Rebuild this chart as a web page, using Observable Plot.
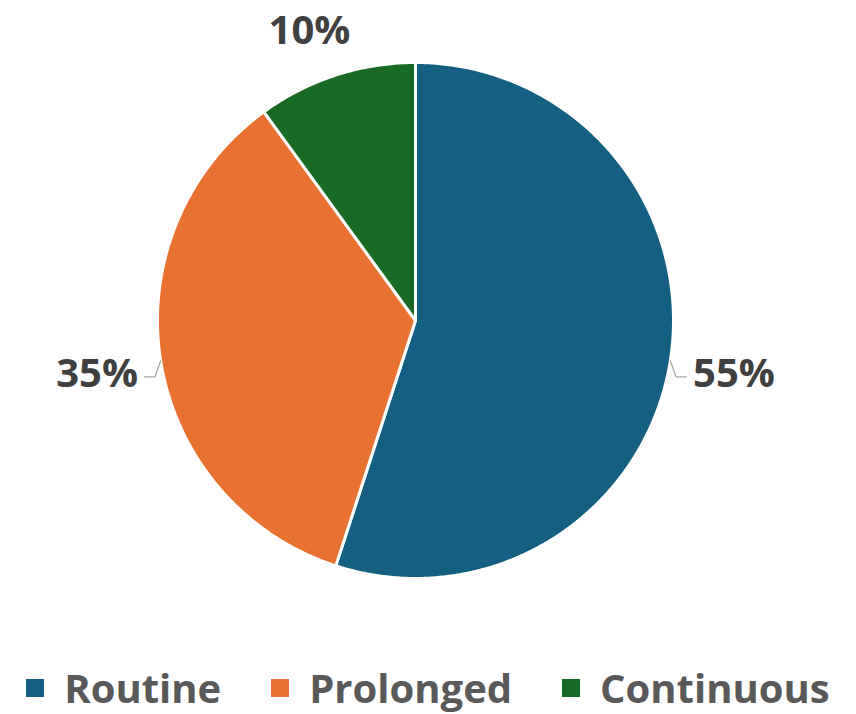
<!DOCTYPE html>
<html>
<head>
<meta charset="utf-8">
<script src="https://cdn.jsdelivr.net/npm/d3@7"></script>
<script src="https://cdn.jsdelivr.net/npm/@observablehq/plot@0.6"></script>
<style>
  body { margin: 0; background: #fff; font-family: "Open Sans", sans-serif; }
  #wrap { position: relative; width: 856px; height: 714px; }
  #legend { position: absolute; left: 0; top: 660px; width: 856px; display: flex; justify-content: center; align-items: center; gap: 50px; font-weight: 700; font-size: 40px; color: #595959; }
  .item { display: flex; align-items: center; gap: 20px; }
  .sw { width: 18px; height: 18px; display: inline-block; }
</style>
</head>
<body>
<div id="wrap">
  <div id="chart"></div>
  <div id="legend"></div>
</div>
<script>
const categories = ["Routine", "Prolonged", "Continuous"];
const shares = [55, 35, 10];
const labels = ["55%", "35%", "10%"];
const colors = ["#156082", "#E97132", "#196B24"];
const hasLeader = [true, true, false];

const total = d3.sum(shares);
const slices = [];
const leaders = [];
const texts = [];
let acc = 0;
categories.forEach((c, i) => {
  const a0 = acc / total * 2 * Math.PI;
  acc += shares[i];
  const a1 = acc / total * 2 * Math.PI;
  slices.push({cat: c, x: 0, y: 0});
  const n = Math.max(2, Math.ceil((a1 - a0) / (Math.PI / 360)));
  for (let k = 0; k <= n; k++) {
    const a = a0 + (a1 - a0) * k / n;
    slices.push({cat: c, x: Math.sin(a), y: Math.cos(a)});
  }
  slices.push({cat: c, x: 0, y: 0});
  const m = (a0 + a1) / 2;
  const sx = Math.sin(m), sy = Math.cos(m);
  if (hasLeader[i]) {
    const sign = sx >= 0 ? 1 : -1;
    const p1 = {x: sx + sign * 0.022, y: sy - 0.062};
    const p2 = {x: p1.x + sign * 0.04, y: p1.y};
    leaders.push({cat: c, x: sx, y: sy}, {cat: c, x: p1.x, y: p1.y}, {cat: c, x: p2.x, y: p2.y});
    texts.push({label: labels[i], x: p2.x + sign * 0.026, y: p2.y + 0.012, anchor: sign > 0 ? "start" : "end"});
  } else {
    texts.push({label: labels[i], x: sx * 1.2 - 0.04, y: sy * 1.18, anchor: "middle"});
  }
});

const chart = Plot.plot({
  width: 856,
  height: 650,
  margin: 0,
  x: {domain: [-1, 1], range: [157, 673], axis: null},
  y: {domain: [-1, 1], range: [578, 62], axis: null},
  color: {domain: categories, range: colors},
  marks: [
    Plot.line(slices, {x: "x", y: "y", z: "cat", fill: "cat", stroke: "white", strokeWidth: 3, strokeLinejoin: "round", curve: "linear"}),
    Plot.line(leaders, {x: "x", y: "y", z: "cat", stroke: "#a6a6a6", strokeWidth: 1.3}),
    Plot.text(texts.filter(d => d.anchor === "start"), {x: "x", y: "y", text: "label", textAnchor: "start", fontSize: 40, fontWeight: 700, fill: "#404040", fontFamily: "Open Sans"}),
    Plot.text(texts.filter(d => d.anchor === "end"), {x: "x", y: "y", text: "label", textAnchor: "end", fontSize: 40, fontWeight: 700, fill: "#404040", fontFamily: "Open Sans"}),
    Plot.text(texts.filter(d => d.anchor === "middle"), {x: "x", y: "y", text: "label", textAnchor: "middle", fontSize: 40, fontWeight: 700, fill: "#404040", fontFamily: "Open Sans"})
  ]
});
document.getElementById("chart").appendChild(chart);

const legend = document.getElementById("legend");
categories.forEach((c, i) => {
  const item = document.createElement("div");
  item.className = "item";
  const sw = document.createElement("span");
  sw.className = "sw";
  sw.style.background = colors[i];
  const t = document.createElement("span");
  t.textContent = c;
  item.appendChild(sw);
  item.appendChild(t);
  legend.appendChild(item);
});
</script>
</body>
</html>
